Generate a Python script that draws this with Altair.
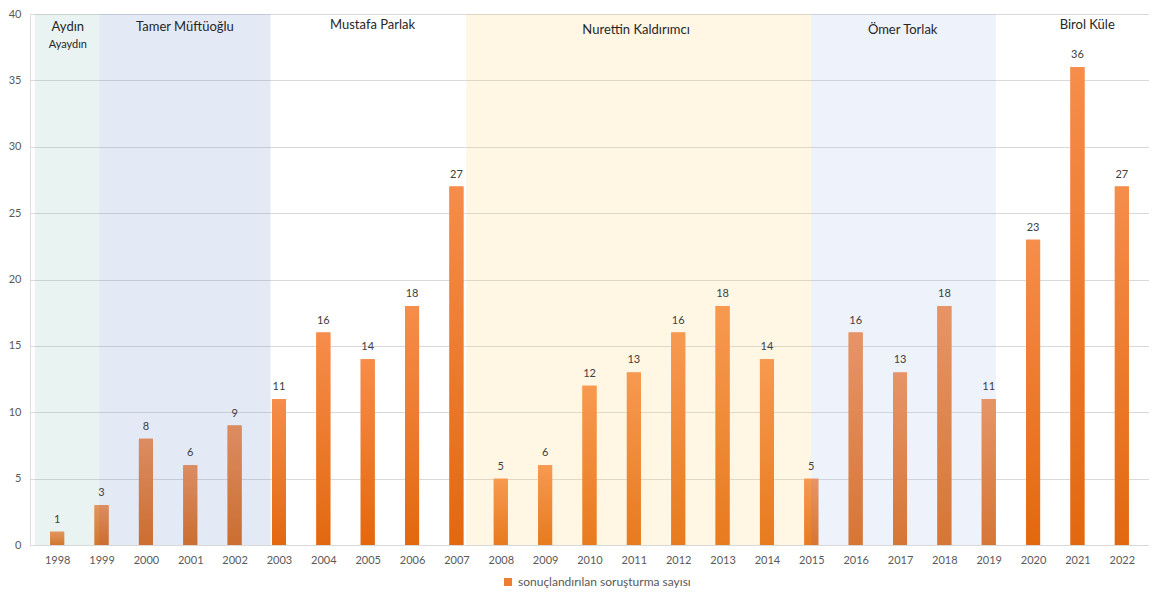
import altair as alt
import pandas as pd

# ---- data ----
years = list(range(1998, 2023))
counts = [1, 3, 8, 6, 9, 11, 16, 14, 18, 27, 5, 6, 12, 13, 16, 18, 14, 5, 16, 13, 18, 11, 23, 36, 27]
series_name = "sonuçlandırılan soruşturma sayısı"

# shaded leadership periods (year units)
shade_names = ["Aydın Ayaydın", "Tamer Müftüoğlu", "Nurettin Kaldırımcı", "Ömer Torlak"]
shade_start = [1997.5, 1998.95, 2007.22, 2015.0]
shade_end = [1998.95, 2002.81, 2015.0, 2019.16]
shade_colors = ["#85C2B7", "#638ACD", "#FFD369", "#A1B7E9"]

# leader name labels
leader_names = ["Aydın", "Tamer Müftüoğlu", "Mustafa Parlak", "Nurettin Kaldırımcı", "Ömer Torlak", "Birol Küle"]
leader_x = [1998.24, 2000.88, 2005.11, 2011.05, 2017.06, 2021.22]
leader_y = [39.0, 39.0, 39.2, 38.8, 38.8, 39.2]
sub_names = ["Ayaydın"]
sub_x = [1998.24]
sub_y = [37.65]

df = pd.DataFrame({"year": years, "count": counts, "series": [series_name] * len(years)})
shades = pd.DataFrame({"leader": shade_names, "start": shade_start, "end": shade_end,
                       "top": [40] * 4, "bottom": [0] * 4})
leaders = pd.DataFrame({"name": leader_names, "x": leader_x, "y": leader_y})
subs = pd.DataFrame({"name": sub_names, "x": sub_x, "y": sub_y})

FONT = "Lato"
xscale = alt.Scale(domain=[1997.5, 2022.5], nice=False, zero=False)
yscale = alt.Scale(domain=[0, 40], nice=False)

x_enc = alt.X("year:Q", scale=xscale,
              axis=alt.Axis(values=years, format="d", title=None, grid=False, ticks=False,
                            domainColor="#D9D9D9", labelColor="#595959", labelFontSize=11,
                            labelFont=FONT, labelPadding=9, labelFlush=False))
y_enc = alt.Y("count:Q", scale=yscale,
              axis=alt.Axis(values=list(range(0, 41, 5)), title=None, domain=False, ticks=False,
                            gridColor="#D9D9D9", labelColor="#595959", labelFontSize=11,
                            labelFont=FONT, labelPadding=9))

base = alt.Chart(df)

legend_bars = base.mark_bar(width=14).encode(
    x=x_enc, y=y_enc,
    color=alt.Color("series:N", scale=alt.Scale(range=["#ED7D31"]),
                    legend=alt.Legend(title=None, orient="none", legendX=472, legendY=562,
                                      symbolType="square", symbolSize=64, symbolStrokeWidth=0,
                                      labelFontSize=12, labelColor="#595959", labelFont=FONT,
                                      labelLimit=0)),
)

grad_bars = base.mark_bar(
    width=14,
    color=alt.Gradient(gradient="linear", x1=0, y1=0, x2=0, y2=1,
                       stops=[alt.GradientStop(color="#F68D4B", offset=0),
                              alt.GradientStop(color="#E2680F", offset=1)]),
).encode(x="year:Q", y="count:Q")

overlay = alt.Chart(shades).mark_rect(opacity=0.18).encode(
    x=alt.X("start:Q", scale=xscale), x2="end:Q",
    y=alt.Y("top:Q", scale=yscale), y2="bottom:Q",
    fill=alt.Fill("leader:N", scale=alt.Scale(domain=shade_names, range=shade_colors), legend=None),
)

values_text = base.mark_text(dy=-7, baseline="bottom", fontSize=11, font=FONT, color="#404040").encode(
    x="year:Q", y="count:Q", text="count:Q")

leader_text = alt.Chart(leaders).mark_text(fontSize=13, font=FONT, color="#262626", baseline="middle").encode(
    x=alt.X("x:Q", scale=xscale), y=alt.Y("y:Q", scale=yscale), text="name:N")

sub_text = alt.Chart(subs).mark_text(fontSize=11, font=FONT, color="#262626", baseline="middle").encode(
    x=alt.X("x:Q", scale=xscale), y=alt.Y("y:Q", scale=yscale), text="name:N")

chart = alt.layer(legend_bars, grad_bars, overlay, values_text, leader_text, sub_text).resolve_scale(
    color="independent", fill="independent"
).properties(
    width=1119, height=531,
    autosize=alt.AutoSizeParams(type="none"),
    padding={"left": 22, "right": 0, "top": 6, "bottom": 46},
).configure_view(stroke=None).configure(background="white")

chart.save("out.html", embed_options={"renderer": "svg", "actions": False})
